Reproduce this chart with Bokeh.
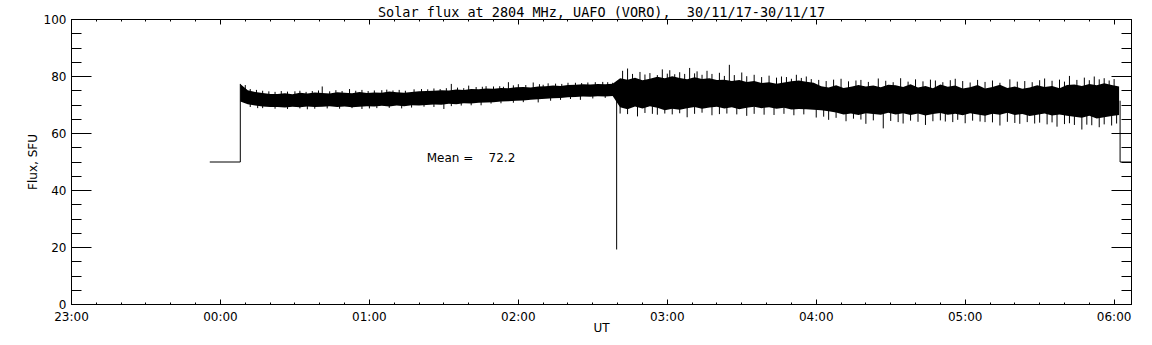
import numpy as np
from bokeh.plotting import figure
from bokeh.models import Range1d, LinearAxis, FixedTicker, Label
from bokeh.embed import file_html
from bokeh.resources import INLINE

# ---------------- data (time in minutes after 23:00 UT) ----------------
NBSP = "\u00a0"
TITLE = "Solar flux at 2804 MHz, UAFO (VORO), " + NBSP + "30/11/17-30/11/17"
X_LABEL = "UT"
Y_LABEL = "Flux, SFU"
MEAN_TEXT = "Mean =" + NBSP * 4 + "72.2"

X_START = 0
X_END = 427
X_TICKS = [0, 60, 120, 180, 240, 300, 360, 420]
X_TICK_LABELS = ["23:00", "00:00", "01:00", "02:00", "03:00", "04:00", "05:00", "06:00"]
X_MINOR = [0, 10, 20, 30, 40, 50, 60, 70, 80, 90, 100, 110, 120, 130, 140, 150, 160, 170,
           180, 190, 200, 210, 220, 230, 240, 250, 260, 270, 280, 290, 300, 310, 320, 330,
           340, 350, 360, 370, 380, 390, 400, 410, 420]
Y_TICKS = [0, 20, 40, 60, 80, 100]
Y_MINOR = [0, 5, 10, 15, 20, 25, 30, 35, 40, 45, 50, 55, 60, 65, 70, 75, 80, 85, 90, 95, 100]

# flat level before the receiver starts / after it stops
LEAD_T = [55.7, 68.0]
LEAD_V = [50.0, 50.0]
TAIL_T = [422.4, 427.0]
TAIL_V = [50.0, 50.0]
# single drop-out sample
DROP_T = 219.6
DROP_V = 19.3

# envelope of the noisy record (upper / lower edge of the dense black band)
BAND_T = [68, 71, 74, 77, 80, 83, 86, 89, 92, 95, 98, 101, 104, 107, 110, 113, 116, 119, 122, 125,
          128, 131, 134, 137, 140, 143, 146, 149, 152, 155, 158, 161, 164, 167, 170, 173, 176, 179, 182, 185,
          188, 191, 194, 197, 200, 203, 206, 209, 212, 215, 218, 221, 224, 227, 230, 233, 236, 239, 242, 245,
          248, 251, 254, 257, 260, 263, 266, 269, 272, 275, 278, 281, 284, 287, 290, 293, 296, 299, 302, 305,
          308, 311, 314, 317, 320, 323, 326, 329, 332, 335, 338, 341, 344, 347, 350, 353, 356, 359, 362, 365,
          368, 371, 374, 377, 380, 383, 386, 389, 392, 395, 398, 401, 404, 407, 410, 413, 416, 419, 422]
BAND_UP = [77.4, 75.2, 74.6, 74.2, 73.9,
           73.9, 74.1, 73.8, 74.3, 74.0, 74.4, 74.2, 74.0, 74.5, 74.3, 74.1, 74.6, 74.2, 74.4, 74.3,
           74.7, 74.5, 74.3, 74.6, 74.8,
           74.9, 75.0, 75.2, 75.1, 75.4, 75.3, 75.6, 75.5, 75.8, 75.7, 76.0, 75.9, 76.2, 76.3, 76.1,
           76.5, 76.6, 76.8, 76.7, 77.0,
           77.1, 77.3, 77.2, 77.4, 77.3, 77.5,
           79.4, 78.9, 79.6, 78.7, 79.2, 79.9, 79.4, 80.1, 79.5, 79.0, 79.7, 79.1, 79.4, 78.8,
           78.9, 78.4, 78.8, 78.1, 78.4, 77.7, 78.0, 77.5, 77.9, 78.3, 78.6, 78.2, 77.8,
           76.6, 76.1, 76.9, 76.0, 76.4, 77.0, 76.5, 76.8, 76.2, 77.1,
           76.9, 76.3, 77.3, 76.1, 76.7, 75.9, 77.2, 76.4, 76.8, 75.8, 76.2, 77.0, 75.8, 76.3, 77.1,
           76.0, 76.5, 75.7, 76.1, 76.9, 76.3, 76.7, 75.9, 77.0,
           77.2, 76.7, 77.4, 76.9, 77.6, 77.0, 76.5]
BAND_LO = [71.2, 70.3, 69.8, 69.5, 69.3,
           69.3, 69.1, 69.4, 69.2, 69.5, 69.3, 69.4, 69.6, 69.3, 69.5, 69.2, 69.4, 69.6, 69.5, 69.7,
           69.5, 69.8, 69.6, 69.9, 69.8,
           70.0, 70.2, 70.1, 70.4, 70.3, 70.6, 70.5, 70.8, 70.9, 71.0, 71.2, 71.3, 71.5, 71.6, 71.8,
           72.0, 72.2, 72.4, 72.5, 72.7,
           72.8, 73.0, 72.9, 73.1, 73.0, 73.2,
           69.2, 68.5, 69.5, 68.8, 69.6, 69.0, 68.2, 68.7, 68.3, 68.9, 69.3, 68.7, 69.1, 69.4,
           68.8, 69.2, 68.5, 69.0, 69.4, 68.9, 69.2, 68.7, 69.0, 68.4, 68.6, 68.5, 68.3,
           68.2, 67.8, 67.4, 66.7, 67.0, 66.5, 67.1, 66.8, 66.6, 67.3,
           66.7, 67.1, 66.5, 67.0, 66.3, 66.8, 67.2, 66.6, 66.9, 66.4, 67.1, 66.7, 66.2, 66.9, 66.6,
           67.3, 66.5, 66.8, 66.1, 66.6, 67.0, 66.3, 66.7, 66.2,
           65.9, 65.5, 66.2, 65.3, 65.7, 66.1, 66.5]

# isolated spikes sticking out of the band
SPIKE_UP_T = [70, 72, 74.5, 77, 79.5, 82, 84.5, 87, 90, 92, 94.5, 97, 99.5, 101, 104, 106.5,
              109, 112, 114.5, 117, 119.5, 122, 125, 127, 129.5, 132, 134.5, 138, 141, 143.5,
              146, 148.5, 151, 153, 155.5, 158, 160, 163, 165.5, 167, 170, 172.5, 174, 176,
              178, 180, 183, 186, 188.5, 190, 192, 195, 197.5, 200, 203, 205.5, 208, 211, 214,
              216, 218,
              222, 224, 226, 229, 231, 233, 236, 238, 240, 241, 243, 245, 247, 249, 251, 252,
              254, 256, 258, 261, 263, 265, 267, 270, 272, 275, 278, 281, 284, 286, 288, 290,
              292, 294, 296, 298, 301, 304, 307, 310, 313, 316, 318, 321, 325, 328, 331, 334,
              337, 340, 343, 346, 348, 351, 354, 356, 359, 362, 365, 368, 371, 374, 378, 381,
              384, 387, 390, 392, 395, 398, 400, 402, 405, 408, 410, 412, 414, 416, 418, 420]
SPIKE_UP_V = [77.0, 75.6, 75.3, 75.0, 74.8, 74.6, 74.9, 74.7, 74.8, 75.0, 74.6, 74.9, 75.1, 76.5,
              74.8, 75.2, 74.9, 75.6, 75.0, 75.3, 74.9, 75.1, 75.2, 75.4, 75.1, 75.3, 75.0, 75.5,
              75.6, 75.5, 75.8, 75.6, 75.9, 77.4, 76.1, 75.9, 76.8, 76.3, 76.4, 76.6, 76.5, 76.6,
              76.4, 78.0, 76.9, 77.3, 77.0, 77.9, 77.3, 77.1, 77.6, 77.5, 77.4, 77.8, 77.8, 77.7,
              77.9, 78.0, 78.1, 78.0, 77.8,
              82.0, 82.8, 80.9, 81.6, 80.7, 81.2, 80.5, 82.5, 81.0, 82.2, 80.8, 81.5, 80.9, 83.0,
              81.1, 81.8, 80.6, 82.0, 80.9, 81.3, 80.2, 84.1, 80.5, 81.4, 80.1, 80.6, 79.8, 80.3,
              79.6, 80.0, 79.8, 79.2, 80.6, 79.5, 80.0, 79.1, 78.8, 78.4, 78.9, 79.2, 78.3, 78.6,
              78.8, 78.1, 79.3, 78.5, 78.0, 79.4, 78.2, 79.0, 78.3, 78.9, 78.6, 78.0, 78.7, 79.2,
              78.4, 77.9, 78.8, 78.1, 78.6, 77.8, 79.0, 78.2, 78.4, 78.0, 78.7, 79.3, 78.5, 78.9,
              78.2, 80.2, 78.8, 79.6, 78.7, 80.0, 79.0, 79.4, 78.6, 79.1]
SPIKE_LO_T = [72, 75, 77, 82, 87, 92, 95, 98, 103, 108, 113, 117, 120, 123, 128, 133, 137, 142,
              146, 150, 153, 157, 161, 165, 169, 173, 178, 182, 188, 193, 197, 201, 205, 210, 215,
              221, 224, 228, 231, 234, 236, 239, 242, 245, 248, 251, 254, 258, 261, 264, 268,
              272, 275, 279, 283, 287, 291, 295, 300, 303, 305, 308, 312, 315, 318, 320, 323,
              327, 330, 333, 335, 338, 341, 344, 347, 350, 352, 355, 357, 360, 363, 366, 368,
              371, 374, 377, 380, 382, 385, 388, 390, 393, 395, 397, 400, 402, 404, 407, 409,
              411, 414, 416, 419, 421]
SPIKE_LO_V = [69.3, 68.9, 68.9, 68.7, 68.6, 68.8, 68.5, 68.7, 68.8, 68.7, 68.9, 68.6, 68.8, 68.9,
              69.0, 68.8, 69.1, 69.4, 69.3, 68.6, 69.6, 69.8, 69.9, 69.9, 70.5, 70.6, 70.8, 71.0,
              70.9, 71.5, 71.8, 72.1, 71.8, 72.3, 72.5,
              67.0, 66.8, 66.0, 67.2, 66.9, 66.6, 67.0, 66.7, 67.1, 65.7, 66.9, 67.3, 66.4, 66.8,
              67.0, 66.7, 66.2, 66.9, 66.6, 66.5, 66.9, 66.4, 66.7, 65.6, 65.9, 64.8, 65.5, 64.3,
              65.2, 64.9, 63.4, 64.6, 61.8, 64.4, 64.0, 63.5, 64.5, 64.1, 63.0, 64.3, 64.6, 64.2,
              64.0, 64.8, 63.6, 64.5, 64.2, 64.0, 63.9, 62.8, 64.1, 63.7, 63.4, 64.0, 63.5, 63.8,
              63.2, 63.9, 62.4, 63.3, 63.6, 63.0, 61.4, 63.1, 62.9, 62.2, 63.2, 62.8, 63.5]

# ---------------- figure ----------------
FONT = "DejaVu Sans"

p = figure(width=1152, height=345,
           x_range=Range1d(X_START, X_END), y_range=Range1d(0, 100),
           output_backend="svg", toolbar_location=None,
           x_axis_location=None, y_axis_location=None,
           min_border_left=71, min_border_right=21, min_border_top=19, min_border_bottom=41)
p.grid.visible = False
p.outline_line_color = "black"
p.outline_line_width = 1
p.background_fill_color = "white"
p.border_fill_color = "white"


def make_axis(ticks, minor, labels=True, tick_in=5, minor_in=2):
    ax = LinearAxis(ticker=FixedTicker(ticks=ticks, minor_ticks=minor))
    ax.major_tick_in = tick_in
    ax.major_tick_out = 0
    ax.minor_tick_in = minor_in
    ax.minor_tick_out = 0
    ax.axis_line_color = "black"
    ax.major_tick_line_color = "black"
    ax.minor_tick_line_color = "black"
    ax.major_label_text_font = FONT
    ax.major_label_text_font_size = "12px"
    ax.major_label_text_color = "black"
    ax.axis_label_text_font = FONT
    ax.axis_label_text_font_size = "12px"
    ax.axis_label_text_font_style = "normal"
    ax.axis_label_text_color = "black"
    if not labels:
        ax.major_label_text_color = None
        ax.major_label_text_font_size = "1px"
        ax.major_label_standoff = 0
    return ax


xb = make_axis(X_TICKS, X_MINOR, True, 5, 2)
xb.major_label_overrides = {t: lab for t, lab in zip(X_TICKS, X_TICK_LABELS)}
xb.major_label_standoff = 5
xb.axis_label = X_LABEL
xb.axis_label_standoff = -6
p.add_layout(xb, "below")

# top axis carries the title as its label
xt = make_axis(X_TICKS, X_MINOR, False, 5, 2)
xt.axis_label = TITLE
xt.axis_label_text_font = "DejaVu Sans Mono"
xt.axis_label_text_font_size = "13.5px"
xt.axis_label_standoff = 0
p.add_layout(xt, "above")

yl = make_axis(Y_TICKS, Y_MINOR, True, 20, 10)
yl.major_label_standoff = 5
yl.axis_label = Y_LABEL
yl.axis_label_standoff = 1
p.add_layout(yl, "left")

yr = make_axis(Y_TICKS, Y_MINOR, False, 20, 10)
p.add_layout(yr, "right")

# dense band of the noisy record
p.varea(x=BAND_T, y1=BAND_LO, y2=BAND_UP, fill_color="black", fill_alpha=1.0)

mid = (np.array(BAND_UP) + np.array(BAND_LO)) / 2.0
up_base = np.interp(SPIKE_UP_T, BAND_T, mid)
lo_base = np.interp(SPIKE_LO_T, BAND_T, mid)
p.segment(x0=SPIKE_UP_T, y0=list(up_base), x1=SPIKE_UP_T, y1=SPIKE_UP_V,
          line_color="black", line_width=1)
p.segment(x0=SPIKE_LO_T, y0=list(lo_base), x1=SPIKE_LO_T, y1=SPIKE_LO_V,
          line_color="black", line_width=1)

# lead-in, tail and drop-out
p.line(x=LEAD_T + [LEAD_T[-1]], y=LEAD_V + [BAND_UP[0]], line_color="black", line_width=1)
p.line(x=[TAIL_T[0]] + TAIL_T, y=[float(mid[-1])] + TAIL_V, line_color="black", line_width=1)
drop_base = float(np.interp(DROP_T, BAND_T, mid))
p.segment(x0=[DROP_T], y0=[drop_base], x1=[DROP_T], y1=[DROP_V], line_color="black", line_width=1)

# mean annotation
p.add_layout(Label(x=143.1, y=51.3, text=MEAN_TEXT, text_font=FONT, text_font_size="12px",
                   text_baseline="middle", text_align="left", text_color="black"))

open("out.html", "w").write(file_html(p, INLINE))
